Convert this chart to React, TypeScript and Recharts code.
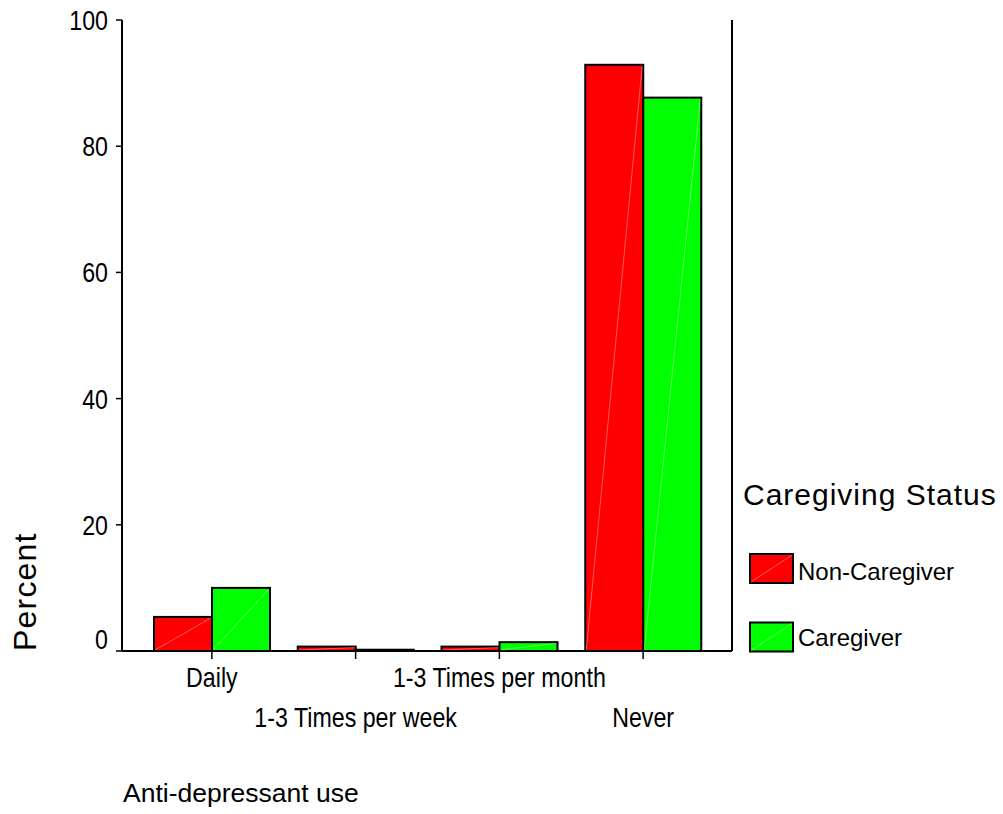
import React from 'react';
import { BarChart, Bar, XAxis, YAxis, Legend } from 'recharts';

const categories = ['Daily', '1-3 Times per week', '1-3 Times per month', 'Never'];
const nonCaregiver = [5.4, 0.7, 0.7, 92.9];
const caregiver = [10.0, 0.2, 1.4, 87.7];
const yTicks = [0, 20, 40, 60, 80, 100];
const seriesNames = ['Non-Caregiver', 'Caregiver'];
const seriesColors = ['#ff0000', '#00ff00'];
const legendTitle = 'Caregiving Status';
const xTitle = 'Anti-depressant use';
const yTitle = 'Percent';

const data = categories.map((c, i) => ({
  name: c,
  nonCaregiver: nonCaregiver[i],
  caregiver: caregiver[i],
}));

const FONT = '"Liberation Sans", Arial, sans-serif';
const NARROW_SCALE = 0.86;

const BarShape = (props: any) => {
  const { x, y, width, height, fill } = props;
  if (width == null || height == null) return null;
  return (
    <g>
      <rect x={x} y={y} width={width} height={height} fill={fill} stroke="#000" strokeWidth={2} />
      {height > 3 && (
        <line x1={x + 1} y1={y + height - 1} x2={x + width - 1} y2={y + 1} stroke="rgba(255,255,255,0.35)" strokeWidth={1} />
      )}
    </g>
  );
};

const XTick = (props: any) => {
  const { x, y, payload, index } = props;
  const dy = index % 2 === 0 ? 26 : 66;
  return (
    <g transform={`translate(${x}, ${y + dy}) scale(${NARROW_SCALE}, 1)`}>
      <text x={0} y={0} textAnchor="middle" fontSize={27} fill="#000" fontFamily={FONT}>
        {payload.value}
      </text>
    </g>
  );
};

const YTick = (props: any) => {
  const { x, y, payload } = props;
  const shift = payload.value === 0 ? -12 : 0;
  return (
    <g transform={`translate(${x - 6}, ${y + shift + 10}) scale(${NARROW_SCALE}, 1)`}>
      <text x={0} y={0} textAnchor="end" fontSize={27} fill="#000" fontFamily={FONT}>
        {payload.value}
      </text>
    </g>
  );
};

const LegendContent = () => (
  <svg width={263} height={190} style={{ display: 'block', overflow: 'visible' }}>
    <text x={3} y={35} fontSize={30} letterSpacing={1} fill="#000" fontFamily={FONT}>
      {legendTitle}
    </text>
    {seriesNames.map((n, i) => (
      <g key={n}>
        <rect x={10} y={84 + i * 68.5} width={43} height={29} fill={seriesColors[i]} stroke="#000" strokeWidth={2} />
        <line x1={11} y1={112 + i * 68.5} x2={52} y2={85 + i * 68.5} stroke="rgba(255,255,255,0.35)" strokeWidth={1} />
        <text x={58} y={110 + i * 66} fontSize={24} fill="#000" fontFamily={FONT}>
          {n}
        </text>
      </g>
    ))}
  </svg>
);

export default function App() {
  return (
    <div style={{ position: 'absolute', left: 0, top: 0, width: 1003, height: 814, background: '#fff' }}>
      <BarChart
        width={1003}
        height={814}
        data={data}
        margin={{ top: 20, right: 270, bottom: 83, left: 62 }}
        barCategoryGap={14}
        barGap={0}
      >
        <XAxis
          dataKey="name"
          xAxisId="bottom"
          height={80}
          padding={{ left: 18, right: 17 }}
          interval={0}
          tickSize={8}
          tickMargin={2}
          axisLine={{ stroke: '#000', strokeWidth: 2 }}
          tickLine={{ stroke: '#000', strokeWidth: 1.5 }}
          tick={<XTick />}
          label={{
            value: xTitle,
            content: (p: any) => (
              <text x={p.viewBox.x + 1} y={p.viewBox.y + 151} fontSize={26.5} fill="#000" fontFamily={FONT}>
                {xTitle}
              </text>
            ),
          }}
        />
        <XAxis
          dataKey="name"
          xAxisId="top"
          orientation="top"
          height={0}
          tick={false}
          tickLine={false}
          axisLine={{ stroke: '#000', strokeWidth: 2 }}
        />
        <YAxis
          yAxisId="left"
          width={60}
          domain={[0, 100]}
          ticks={yTicks}
          tickSize={6}
          tickMargin={2}
          axisLine={{ stroke: '#000', strokeWidth: 2 }}
          tickLine={{ stroke: '#000', strokeWidth: 1.5 }}
          tick={<YTick />}
          label={{
            value: yTitle,
            content: (p: any) => {
              const bx = p.viewBox.x - 26;
              const by = p.viewBox.y + p.viewBox.height;
              return (
                <text x={bx} y={by} transform={`rotate(-90, ${bx}, ${by})`} fontSize={32} letterSpacing={1.2} fill="#000" fontFamily={FONT}>
                  {yTitle}
                </text>
              );
            },
          }}
        />
        <YAxis
          yAxisId="right"
          orientation="right"
          width={1}
          domain={[0, 100]}
          tick={false}
          tickLine={false}
          axisLine={{ stroke: '#000', strokeWidth: 2 }}
        />
        <Legend
          layout="vertical"
          align="center"
          verticalAlign="middle"
          content={<LegendContent />}
          wrapperStyle={{ left: 740, top: 470, width: 263, height: 190 }}
        />
        <Bar
          dataKey="nonCaregiver"
          name={seriesNames[0]}
          xAxisId="bottom"
          yAxisId="left"
          fill={seriesColors[0]}
          shape={<BarShape />}
          isAnimationActive={false}
        />
        <Bar
          dataKey="caregiver"
          name={seriesNames[1]}
          xAxisId="bottom"
          yAxisId="left"
          fill={seriesColors[1]}
          shape={<BarShape />}
          isAnimationActive={false}
        />
      </BarChart>
    </div>
  );
}
